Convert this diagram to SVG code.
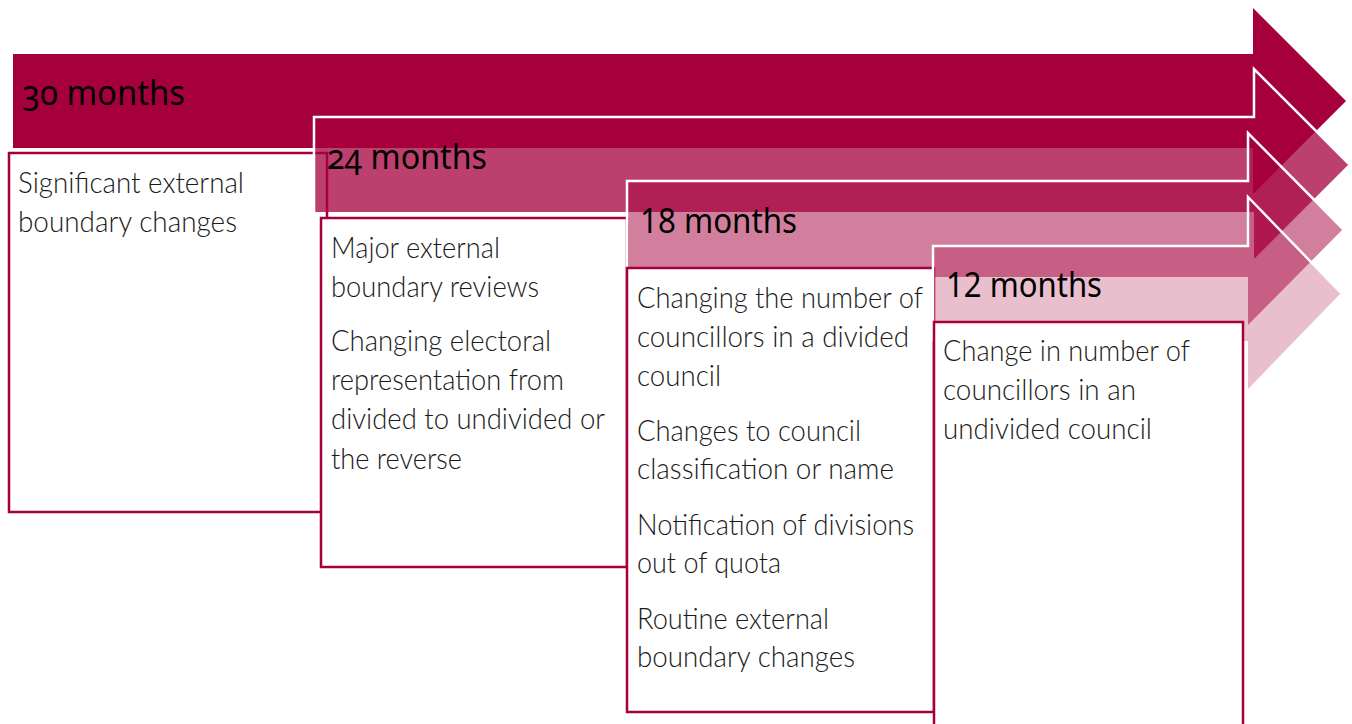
<svg xmlns="http://www.w3.org/2000/svg" width="1352" height="724" viewBox="0 0 1352 724">
<style>
.arrow{fill:#A6003C;stroke:none}
.edge{fill:none;stroke:#FFFFFF;stroke-width:2.5;stroke-linejoin:miter}
.box{fill:#FFFFFF;stroke:#A6003C;stroke-width:2.5}
.title{font-family:"Noto Sans","Lato","Open Sans",sans-serif;font-size:34px;font-weight:400;fill:#000000}
.onum{font-variant-numeric:oldstyle-nums;font-feature-settings:"onum" 1}
.body{font-family:"Lato","Open Sans",sans-serif;font-size:29px;font-weight:300;fill:#1a1a1a}
</style>
<rect x="0" y="0" width="1352" height="724" fill="#FFFFFF"/>
<g id="stage-30">
<polygon class="arrow" points="13,54 1253,54 1253,8 1346,101 1253,194 1253,148 13,148"/>
<text class="title onum" x="22" y="105" textLength="163" lengthAdjust="spacingAndGlyphs">30 months</text>
<rect class="box" x="9" y="153" width="318" height="359"/>
<text class="body" x="18" y="193" textLength="226" lengthAdjust="spacingAndGlyphs">Significant external</text>
<text class="body" x="18" y="232" textLength="219" lengthAdjust="spacingAndGlyphs">boundary changes</text>
</g>
<g id="stage-24">
<polygon class="arrow" fill-opacity="0.75" points="314,117 1254,117 1254,69 1349,164 1254,259 1254,212 314,212"/>
<polyline class="edge" points="314,212 314,117 1254,117 1254,69 1349,164"/>
<text class="title onum" x="327" y="169" textLength="160" lengthAdjust="spacingAndGlyphs">24 months</text>
<rect class="box" x="321" y="218" width="306" height="349"/>
<text class="body" x="331" y="258" textLength="169" lengthAdjust="spacingAndGlyphs">Major external</text>
<text class="body" x="331" y="297" textLength="208" lengthAdjust="spacingAndGlyphs">boundary reviews</text>
<text class="body" x="331" y="351" textLength="220" lengthAdjust="spacingAndGlyphs">Changing electoral</text>
<text class="body" x="331" y="390" textLength="233" lengthAdjust="spacingAndGlyphs">representation from</text>
<text class="body" x="331" y="429" textLength="274" lengthAdjust="spacingAndGlyphs">divided to undivided or</text>
<text class="body" x="331" y="469" textLength="131" lengthAdjust="spacingAndGlyphs">the reverse</text>
</g>
<g id="stage-18">
<polygon class="arrow" fill-opacity="0.5" points="627,181 1248,181 1248,133 1343,229 1248,325 1248,277 627,277"/>
<polyline class="edge" points="627,277 627,181 1248,181 1248,133 1343,229"/>
<text class="title" x="640" y="233" textLength="157" lengthAdjust="spacingAndGlyphs">18 months</text>
<rect class="box" x="627" y="268" width="307" height="444"/>
<text class="body" x="637" y="308" textLength="286" lengthAdjust="spacingAndGlyphs">Changing the number of</text>
<text class="body" x="637" y="347" textLength="272" lengthAdjust="spacingAndGlyphs">councillors in a divided</text>
<text class="body" x="637" y="386" textLength="84" lengthAdjust="spacingAndGlyphs">council</text>
<text class="body" x="637" y="441" textLength="224" lengthAdjust="spacingAndGlyphs">Changes to council</text>
<text class="body" x="637" y="479" textLength="257" lengthAdjust="spacingAndGlyphs">classification or name</text>
<text class="body" x="637" y="535" textLength="277" lengthAdjust="spacingAndGlyphs">Notification of divisions</text>
<text class="body" x="637" y="573" textLength="144" lengthAdjust="spacingAndGlyphs">out of quota</text>
<text class="body" x="637" y="629" textLength="192" lengthAdjust="spacingAndGlyphs">Routine external</text>
<text class="body" x="637" y="667" textLength="218" lengthAdjust="spacingAndGlyphs">boundary changes</text>
</g>
<g id="stage-12">
<polygon class="arrow" fill-opacity="0.25" points="933,246 1248,246 1248,197 1341,293 1248,389 1248,341 933,341"/>
<polyline class="edge" points="933,341 933,246 1248,246 1248,197 1341,293"/>
<text class="title" x="946" y="297" textLength="156" lengthAdjust="spacingAndGlyphs">12 months</text>
<rect class="box" x="934" y="322" width="309" height="420"/>
<text class="body" x="943" y="361" textLength="247" lengthAdjust="spacingAndGlyphs">Change in number of</text>
<text class="body" x="943" y="400" textLength="193" lengthAdjust="spacingAndGlyphs">councillors in an</text>
<text class="body" x="943" y="439" textLength="209" lengthAdjust="spacingAndGlyphs">undivided council</text>
</g>
<g id="connectors"/>
</svg>
